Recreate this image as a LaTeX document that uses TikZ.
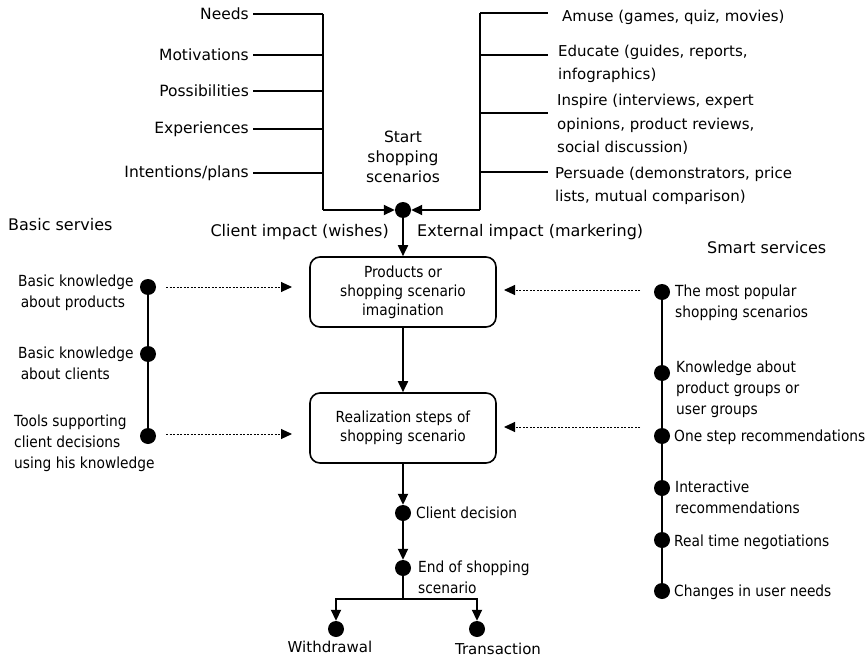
\documentclass[tikz,border=0pt]{standalone}
\usepackage{fontspec}
\setmainfont{DejaVu Sans}
\newfontfamily\cond[FakeStretch=0.9]{DejaVu Sans}
\usetikzlibrary{arrows.meta}
\tikzset{
  lw/.style={line width=1.8pt},
  dot/.style={circle,fill=black,inner sep=0pt,minimum size=16pt},
  lab/.style={inner sep=0pt,font=\fontsize{15.5}{20}\selectfont},
  biglab/.style={inner sep=0pt,font=\fontsize{16}{20}\selectfont},
  toplab/.style={inner sep=0pt,align=left,font=\fontsize{15}{23.5}\selectfont},
  clab/.style={inner sep=0pt,align=left,font=\cond\fontsize{15.3}{21}\selectfont},
  stepbox/.style={draw,line width=1.6pt,rounded corners=10pt,minimum width=186pt,minimum height=70pt,align=center,inner sep=0pt,font=\cond\fontsize{15.3}{19}\selectfont},
  arr/.style={line width=1.8pt,-{Triangle[length=11pt,width=10pt]}},
  darr/.style={line width=1pt,dash pattern=on 2pt off 1.5pt,-{Triangle[length=11pt,width=10pt]}},
}
\begin{document}
\begin{tikzpicture}[x=1pt,y=-1pt]
\useasboundingbox (0,0) rectangle (868,661);
% ---------- top left ----------
\node[lab,anchor=east] (n1) at (249,14) {Needs};
\node[lab,anchor=east] (n2) at (249,55) {Motivations};
\node[lab,anchor=east] (n3) at (249,91) {Possibilities};
\node[lab,anchor=east] (n4) at (249,129) {Experiences};
\node[lab,anchor=east] (n5) at (249,173) {Intentions/plans};
\coordinate (lbT) at (323,14);
\coordinate (lbB) at (323,210);
\node[dot] (d0) at (403,210) {};
\foreach \n in {n1,n2,n3,n4,n5}
  \draw[lw] ([xshift=4pt]\n.east) -- (\n.east -| lbT);
\draw[lw] (lbT) -- (lbB);
\draw[arr] (lbB) -- (d0);
% ---------- top right ----------
\coordinate (rbT) at (480,13);
\coordinate (rbB) at (480,210);
\coordinate (r1) at (548,13);
\coordinate (r2) at (548,55);
\coordinate (r3) at (548,113);
\coordinate (r4) at (548,172);
\foreach \r in {r1,r2,r3,r4}
  \draw[lw] (\r -| rbT) -- (\r);
\draw[lw] (rbT) -- (rbB);
\draw[arr] (rbB) -- (d0);
\node[toplab,anchor=west] (t1) at (562,17) {Amuse (games, quiz, movies)};
\node[toplab,anchor=west] (t2) at (558,64) {Educate (guides, reports,\\infographics)};
\node[toplab,anchor=west] (t3) at (557,124.5) {Inspire (interviews, expert\\opinions, product reviews,\\social discussion)};
\node[toplab,anchor=west] (t4) at (555,186) {Persuade (demonstrators, price\\lists, mutual comparison)};
\node[lab,align=center] (start) at (403,157) {Start\\shopping\\scenarios};
\node[biglab,anchor=east] (ci) at (389,232) {Client impact (wishes)};
\node[biglab,anchor=west] (ei) at (417,232) {External impact (markering)};
% ---------- centre ----------
\node[stepbox] (b1) at (403,292) {Products or\\shopping scenario\\imagination};
\node[stepbox] (b2) at (403,428) {Realization steps of\\shopping scenario};
\draw[arr] (d0.south) -- (b1.north);
\draw[arr] (b1.south) -- (b2.north);
\node[dot] (cd) at (403,513) {};
\node[dot] (eos) at (403,568) {};
\draw[arr] (b2.south) -- (cd.north);
\draw[arr] (cd.south) -- (eos.north);
\node[clab,anchor=west] (cdl) at (416,513) {Client decision};
\node[clab,anchor=west] (eosl) at (418,577) {End of shopping\\scenario};
\coordinate (bj) at (403,599);
\node[dot] (wd) at (336,629) {};
\node[dot] (tr) at (477,629) {};
\draw[lw] (eos.center) -- (bj);
\draw[arr] (bj) -| (wd.north);
\draw[arr] (bj) -| (tr.north);
\node[lab,font=\fontsize{15}{18}\selectfont] (wdl) at (330,647) {Withdrawal};
\node[lab,font=\fontsize{15}{18}\selectfont] (trl) at (498,649) {Transaction};
% ---------- left: basic services ----------
\node[biglab,anchor=west] (bs) at (8,225) {Basic servies};
\node[dot] (l1) at (148,287) {};
\node[dot] (l2) at (148,354) {};
\node[dot] (l3) at (148,436) {};
\draw[lw] (l1.center) -- (l3.center);
\node[clab,anchor=west] (l1t) at (18,293) {Basic knowledge\\\,about products};
\node[clab,anchor=west] (l2t) at (18,363) {Basic knowledge\\\,about clients};
\node[clab,anchor=west] (l3t) at (14,443) {Tools supporting\\client decisions\\using his knowledge};
\coordinate (la1) at (166,287);
\coordinate (la1e) at (292,287);
\coordinate (la2) at (166,434);
\coordinate (la2e) at (292,434);
\draw[darr] (la1) -- (la1e);
\draw[darr] (la2) -- (la2e);
% ---------- right: smart services ----------
\node[biglab,anchor=west] (ss) at (707,248) {Smart services};
\node[dot] (s1) at (662,292) {};
\node[dot] (s2) at (662,373) {};
\node[dot] (s3) at (662,436) {};
\node[dot] (s4) at (662,488) {};
\node[dot] (s5) at (662,540) {};
\node[dot] (s6) at (662,591) {};
\draw[lw] (s1.center) -- (s6.center);
\node[clab,anchor=west] (s1t) at (675,303) {The most popular\\shopping scenarios};
\node[clab,anchor=west] (s2t) at (676,389) {Knowledge about\\product groups or\\user groups};
\node[clab,anchor=west] (s3t) at (674,437) {One step recommendations};
\node[clab,anchor=west] (s4t) at (675,497) {Interactive\\recommendations};
\node[clab,anchor=west] (s5t) at (674,542) {Real time negotiations};
\node[clab,anchor=west] (s6t) at (674,592) {Changes in user needs};
\coordinate (ra1) at (640,290);
\coordinate (ra1e) at (504,290);
\coordinate (ra2) at (640,427);
\coordinate (ra2e) at (504,427);
\draw[darr] (ra1) -- (ra1e);
\draw[darr] (ra2) -- (ra2e);
\end{tikzpicture}
\end{document}
